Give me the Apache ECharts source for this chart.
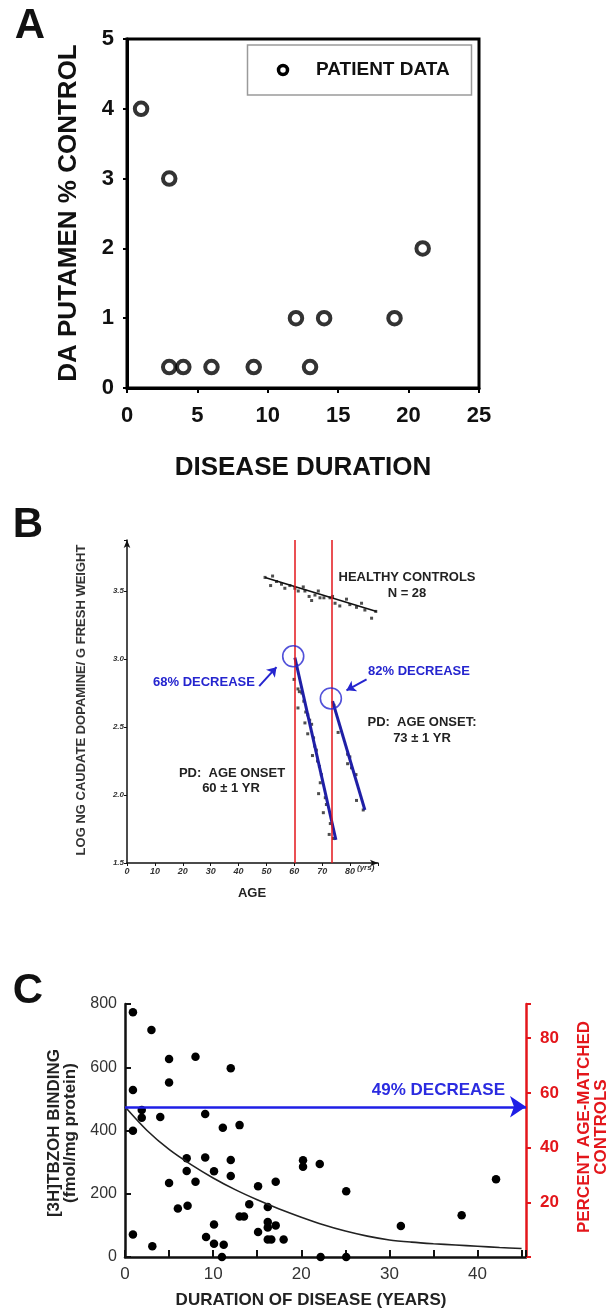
<!DOCTYPE html>
<html>
<head>
<meta charset="utf-8">
<script src="https://cdn.jsdelivr.net/npm/echarts@6/dist/echarts.min.js"></script>
<style>
  html, body { margin: 0; padding: 0; background: #fff; }
  #chart { width: 611px; height: 1313px; }
</style>
</head>
<body>
<div id="chart"></div>
<script>
// ---- Panel A: DA putamen vs disease duration
const durationA = [1, 3, 3, 4, 6, 9, 12, 13, 14, 19, 21];
const putamenA = [4, 3, 0.3, 0.3, 0.3, 0.3, 1, 0.3, 1, 1, 2];

// ---- Panel B: log caudate dopamine vs age
const healthyAge = [49.5, 51.5, 52.2, 53.6, 55.4, 56.6, 58.4, 60.2, 61.4, 63.2, 63.8, 65.3, 66.2, 67.4,
  68.6, 69.2, 70.6, 72.8, 73.7, 74.6, 76.3, 78.7, 79.9, 82.3, 84.1, 85.3, 87.7, 89.2];
const healthyDa = [3.60, 3.54, 3.61, 3.57, 3.55, 3.52, 3.54, 3.52, 3.50, 3.53, 3.50, 3.46, 3.43, 3.47,
  3.50, 3.45, 3.45, 3.45, 3.46, 3.41, 3.39, 3.44, 3.40, 3.38, 3.41, 3.36, 3.30, 3.35];
const healthyFitAge = [49.5, 89.5];
const healthyFitDa = [3.60, 3.35];

const pd60Age = [59.9, 61.3, 61.8, 61.3, 62.7, 63.4, 64.1, 64.8, 63.8, 65.5, 64.8, 66.2, 66.9, 67.3,
  66.5, 67.9, 68.3, 69.0, 69.7, 69.3, 68.7, 71.1, 71.5, 70.4, 72.9, 72.5, 74.0];
const pd60Da = [2.85, 2.78, 2.76, 2.64, 2.75, 2.69, 2.61, 2.59, 2.53, 2.55, 2.45, 2.52, 2.42, 2.36,
  2.29, 2.33, 2.25, 2.21, 2.15, 2.09, 2.01, 1.98, 1.93, 1.87, 1.79, 1.71, 1.68];
const pd60FitAge = [60.2, 74.9];
const pd60FitDa = [3.01, 1.67];

const pd73Age = [74.2, 75.7, 79.1, 79.9, 79.1, 80.5, 82.1, 82.3, 84.7];
const pd73Da = [2.66, 2.46, 2.30, 2.28, 2.23, 2.20, 2.15, 1.96, 1.89];
const pd73FitAge = [73.7, 85.3];
const pd73FitDa = [2.69, 1.89];

const onsetAge = [59.6, 73.1];
const onsetDa = [3.02, 2.71];
const onsetLines = [60, 73.3];

// ---- Panel C: [3H]TBZOH binding vs duration
const tbzDuration = [0.9, 3.0, 5.0, 8.0, 12.0, 5.0, 0.9, 1.9, 1.9, 4.0, 9.1, 0.9, 11.1, 13.0, 7.0, 9.1,
  12.0, 7.0, 10.1, 12.0, 5.0, 8.0, 15.1, 14.1, 6.0, 7.1, 13.0, 13.5, 10.1, 15.1, 0.9, 9.2, 10.1, 11.2,
  3.1, 11.0, 16.2, 16.2, 16.2, 17.1, 17.1, 16.2, 16.6, 18.0, 20.2, 20.2, 22.1, 25.1, 31.3, 38.2, 42.1,
  22.2, 25.1];
const tbzBinding = [774, 718, 626, 633, 597, 552, 528, 465, 440, 443, 452, 399, 409, 417, 312, 315,
  307, 272, 271, 256, 234, 238, 224, 167, 153, 162, 128, 128, 103, 79, 71, 63, 42, 39,
  34, 0, 158, 111, 93, 238, 100, 55, 55, 55, 306, 285, 294, 208, 98, 132, 246,
  0, 0];
const fitYears = [0, 2.5, 5, 7.5, 10, 12.5, 15, 17.5, 20, 22.5, 25, 27.5, 30, 32.5, 35, 37.5, 40, 42.5, 45];
const fitBinding = [475, 400, 340, 292, 250, 213, 181, 152, 126, 102, 82, 66, 54, 47, 42, 38, 34, 30, 27];
const decreaseLevel = 475;

const FONT = '"Liberation Sans", Arial, Helvetica, sans-serif';
const BLUE = '#2525cf';
const NAVY = '#1f1fa6';
const RED = '#e3161b';

const pair = (xs, ys) => xs.map((x, i) => [x, ys[i]]);

function label(x, y, text, size, opts = {}) {
  return {
    type: 'text',
    x,
    y,
    rotation: opts.rotate ? Math.PI / 2 : 0,
    silent: true,
    z: 10,
    style: {
      text,
      fill: opts.color || '#111',
      fontFamily: FONT,
      fontSize: size,
      fontWeight: opts.weight || 'bold',
      fontStyle: opts.italic ? 'italic' : 'normal',
      align: opts.align || 'center',
      verticalAlign: 'middle',
      lineHeight: opts.lineHeight || size * 1.2,
    },
  };
}

const chart = echarts.init(document.getElementById('chart'));

const option = {
  animation: false,
  backgroundColor: '#fff',
  textStyle: { fontFamily: FONT },
  grid: [
    { left: 127, top: 39, width: 352, height: 349, show: true, borderColor: '#000', borderWidth: 3, outerBoundsMode: 'none' },
    { left: 127, top: 540, width: 251, height: 323, outerBoundsMode: 'none' },
    { left: 125, top: 1004, width: 401, height: 253, outerBoundsMode: 'none' },
  ],
  xAxis: [
    {
      gridIndex: 0, type: 'value', min: 0, max: 25, interval: 5,
      axisLine: { show: true, lineStyle: { color: '#000', width: 3 } },
      axisTick: { show: true, length: 5, lineStyle: { color: '#000', width: 2 } },
      axisLabel: { fontSize: 22, fontWeight: 'bold', color: '#111', margin: 17, fontFamily: FONT },
      splitLine: { show: false },
    },
    {
      gridIndex: 1, type: 'value', min: 0, max: 90, interval: 10,
      axisLine: { show: true, lineStyle: { color: '#111', width: 1.5 }, symbol: ['none', 'arrow'], symbolSize: [5, 8] },
      axisTick: { show: true, length: 3, lineStyle: { color: '#111', width: 1 } },
      axisLabel: {
        fontSize: 9, fontStyle: 'italic', fontWeight: 'bold', color: '#333', margin: 4, fontFamily: FONT,
        formatter: (v) => (v % 10 === 0 && v <= 80 ? String(v) : ''),
      },
      splitLine: { show: false },
    },
    {
      gridIndex: 2, type: 'value', min: 0, max: 45.5, interval: 5,
      axisLine: { show: true, lineStyle: { color: '#111', width: 2.5 } },
      axisTick: { show: true, inside: true, length: 7, lineStyle: { color: '#111', width: 2 } },
      axisLabel: {
        fontSize: 17, color: '#333', margin: 9, fontFamily: FONT,
        formatter: (v) => (v % 10 === 0 ? String(v) : ''),
      },
      splitLine: { show: false },
    },
  ],
  yAxis: [
    {
      gridIndex: 0, type: 'value', min: 0, max: 5, interval: 1,
      axisLine: { show: true, lineStyle: { color: '#000', width: 3 } },
      axisTick: { show: true, length: 4, lineStyle: { color: '#000', width: 2 } },
      axisLabel: { fontSize: 22, fontWeight: 'bold', color: '#111', margin: 13, fontFamily: FONT },
      splitLine: { show: false },
    },
    {
      gridIndex: 1, type: 'value', min: 1.5, max: 3.875, interval: 0.5,
      axisLine: { show: true, lineStyle: { color: '#111', width: 1.5 }, symbol: ['none', 'arrow'], symbolSize: [5, 8] },
      axisTick: { show: true, length: 3, lineStyle: { color: '#111', width: 1 } },
      axisLabel: {
        fontSize: 8, fontStyle: 'italic', fontWeight: 'bold', color: '#333', margin: 3, fontFamily: FONT,
        formatter: (v) => (v <= 3.5 && Math.abs(v * 2 - Math.round(v * 2)) < 1e-6 ? v.toFixed(1) : ''),
      },
      splitLine: { show: false },
    },
    {
      gridIndex: 2, type: 'value', min: 0, max: 800, interval: 200, position: 'left',
      axisLine: { show: true, lineStyle: { color: '#111', width: 2.5 } },
      axisTick: { show: true, inside: true, length: 6, lineStyle: { color: '#111', width: 2 } },
      axisLabel: { fontSize: 16, color: '#333', margin: 8, fontFamily: FONT },
      splitLine: { show: false },
    },
    {
      gridIndex: 2, type: 'value', min: 0, max: 92.5, interval: 20, position: 'right',
      axisLine: { show: true, lineStyle: { color: RED, width: 2.5 } },
      axisTick: { show: true, length: 5, lineStyle: { color: RED, width: 2 } },
      axisLabel: {
        fontSize: 17, fontWeight: 'bold', color: RED, margin: 14, fontFamily: FONT,
        formatter: (v) => (v > 0 && v % 20 === 0 ? String(v) : ''),
      },
      splitLine: { show: false },
    },
  ],
  series: [
    // A
    {
      name: 'PATIENT DATA', type: 'scatter', xAxisIndex: 0, yAxisIndex: 0,
      data: pair(durationA, putamenA),
      symbol: 'circle', symbolSize: 12.5,
      itemStyle: { color: '#fff', borderColor: '#000', borderWidth: 4 },
    },
    // B
    {
      name: 'Healthy controls', type: 'scatter', xAxisIndex: 1, yAxisIndex: 1,
      data: pair(healthyAge, healthyDa),
      symbol: 'rect', symbolSize: 3, itemStyle: { color: '#222' },
      markLine: {
        silent: true, symbol: 'none', label: { show: false },
        lineStyle: { color: RED, width: 1.5, type: 'solid' },
        data: onsetLines.map((v) => ({ xAxis: v })),
      },
    },
    {
      type: 'line', xAxisIndex: 1, yAxisIndex: 1, data: pair(healthyFitAge, healthyFitDa),
      showSymbol: false, lineStyle: { color: '#111', width: 1.6 },
    },
    {
      type: 'scatter', xAxisIndex: 1, yAxisIndex: 1, data: pair(pd60Age, pd60Da),
      symbol: 'rect', symbolSize: 3, itemStyle: { color: '#222' },
    },
    {
      type: 'line', xAxisIndex: 1, yAxisIndex: 1, data: pair(pd60FitAge, pd60FitDa),
      showSymbol: false, lineStyle: { color: NAVY, width: 3 },
      markLine: {
        silent: true, symbol: ['none', 'arrow'], symbolSize: 9, label: { show: false },
        lineStyle: { color: BLUE, width: 2, type: 'solid' },
        data: [
          [{ coord: [47.4, 2.80] }, { coord: [53.6, 2.94] }],
          [{ coord: [85.9, 2.85] }, { coord: [78.7, 2.77] }],
        ],
      },
    },
    {
      type: 'scatter', xAxisIndex: 1, yAxisIndex: 1, data: pair(pd73Age, pd73Da),
      symbol: 'rect', symbolSize: 3, itemStyle: { color: '#222' },
    },
    {
      type: 'line', xAxisIndex: 1, yAxisIndex: 1, data: pair(pd73FitAge, pd73FitDa),
      showSymbol: false, lineStyle: { color: NAVY, width: 3 },
    },
    {
      type: 'scatter', xAxisIndex: 1, yAxisIndex: 1, data: pair(onsetAge, onsetDa),
      symbol: 'circle', symbolSize: 21, z: 5,
      itemStyle: { color: 'rgba(0,0,0,0)', borderColor: BLUE, borderWidth: 1.6 },
    },
    // C
    {
      type: 'scatter', xAxisIndex: 2, yAxisIndex: 2, data: pair(tbzDuration, tbzBinding),
      symbol: 'circle', symbolSize: 8.5, itemStyle: { color: '#000', opacity: 1 }, clip: false,
    },
    {
      type: 'line', xAxisIndex: 2, yAxisIndex: 2, data: pair(fitYears, fitBinding),
      smooth: 0.3, showSymbol: false, lineStyle: { color: '#222', width: 1.6 },
      markLine: {
        silent: true, symbol: ['none', 'arrow'], symbolSize: 16, label: { show: false },
        lineStyle: { color: '#1f1fe6', width: 2.5, type: 'solid' },
        data: [[{ coord: [0, decreaseLevel] }, { coord: [45.5, decreaseLevel] }]],
      },
    },
  ],
  graphic: [
    // panel letters
    label(30, 26, 'A', 42),
    label(28, 525, 'B', 42),
    label(28, 991, 'C', 42),
    // A axis titles
    label(69, 213, 'DA PUTAMEN % CONTROL', 26, { rotate: true }),
    label(303, 468, 'DISEASE DURATION', 26),
    // A legend
    {
      type: 'rect', z: 9, silent: true,
      shape: { x: 247.5, y: 45, width: 224, height: 50 },
      style: { fill: '#fff', stroke: '#9a9a9a', lineWidth: 1.5 },
    },
    {
      type: 'circle', z: 10, silent: true,
      shape: { cx: 283, cy: 70, r: 4.5 },
      style: { fill: '#fff', stroke: '#000', lineWidth: 3.5 },
    },
    label(316, 70, 'PATIENT DATA', 19, { align: 'left' }),
    // B annotations
    label(81, 700, 'LOG NG CAUDATE DOPAMINE/ G FRESH WEIGHT', 13, { rotate: true, color: '#333' }),
    label(252, 893, 'AGE', 13, { color: '#222' }),
    label(357, 868, '(yrs)', 8, { align: 'left', italic: true, color: '#333' }),
    label(407, 577, 'HEALTHY CONTROLS', 13, { color: '#222' }),
    label(407, 593, 'N = 28', 13, { color: '#222' }),
    label(153, 682, '68% DECREASE', 13, { align: 'left', color: BLUE }),
    label(368, 671, '82% DECREASE', 13, { align: 'left', color: BLUE }),
    label(422, 722, 'PD:  AGE ONSET:', 13, { color: '#222' }),
    label(422, 738, '73 ± 1 YR', 13, { color: '#222' }),
    label(232, 773, 'PD:  AGE ONSET', 13, { color: '#222' }),
    label(231, 788, '60 ± 1 YR', 13, { color: '#222' }),
    // C annotations
    label(62, 1133, '[3H]TBZOH BINDING\n(fmol/mg protein)', 17, { rotate: true, lineHeight: 16, color: '#222' }),
    label(593, 1127, 'PERCENT AGE-MATCHED\nCONTROLS', 17, { rotate: true, lineHeight: 17.5, color: RED }),
    label(311, 1300, 'DURATION OF DISEASE (YEARS)', 17, { color: '#222' }),
    label(505, 1090, '49% DECREASE', 17, { align: 'right', color: '#2b2be0' }),
  ],
};

chart.setOption(option);
</script>
</body>
</html>
